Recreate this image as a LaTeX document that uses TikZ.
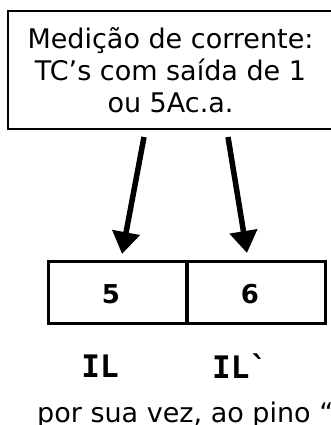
\documentclass[tikz,border=0pt]{standalone}
\usepackage{fontspec}
\setmainfont{DejaVu Sans}
\newfontfamily\labelfont{DejaVu Sans Mono}
\usetikzlibrary{arrows.meta}
\usetikzlibrary{positioning}

\tikzset{
    cellbox/.style={draw, line width=3pt, minimum width=139pt, minimum height=62pt, inner sep=0pt},
    cellnum/.style={inner sep=0pt, font=\fontsize{26}{30}\selectfont\bfseries},
    pinlabel/.style={inner sep=0pt, font=\fontsize{31}{34}\selectfont\labelfont\bfseries},
    feedarrow/.style={line width=5.5pt, -{Triangle[length=22pt,width=27pt]}}
}

\begin{document}
\begin{tikzpicture}[x=1pt,y=-1pt]
            \useasboundingbox (0,0) rectangle (330,425);

            \node[draw, line width=2pt, minimum width=326pt, minimum height=117pt, align=center,
                  font=\fontsize{27}{32}\selectfont] (medicao) at (170.5,70)
                  {Medição de corrente:\\TC’s com saída de 1\\ou 5Ac.a.};

            \node[cellbox] (c5) at (117.5,292) {};
            \node[cellbox] (c6) at (256,292) {};
            \node[cellnum] (n5) at (111,294) {5};
            \node[cellnum] (n6) at (250,294) {6};

            \coordinate (a) at (144,137);
            \coordinate (b) at (122,254);
            \coordinate (c) at (228,137);
            \coordinate (d) at (247,253);

            \draw[feedarrow] (a) -- (b);
            \draw[feedarrow] (c) -- (d);

            \node[pinlabel] (il) at (100,366) {IL};
            \node[pinlabel, anchor=west] (ilp) at (212,366) {IL`};

            \node[anchor=base west, inner sep=0pt, font=\fontsize{27}{30}\selectfont] (pino) at (37,422) {por sua vez, ao pino “};
        \end{tikzpicture}
\end{document}
